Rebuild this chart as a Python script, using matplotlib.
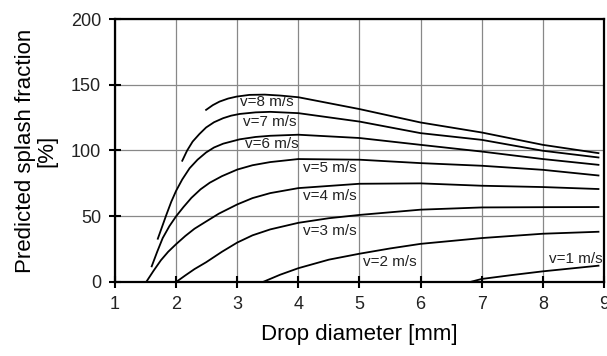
import numpy as np
import matplotlib.pyplot as plt

plt.rcParams['font.family'] = ['Liberation Sans', 'DejaVu Sans']

# drop diameter [mm] / predicted splash fraction [%]
d_v8 = [2.49, 2.60, 2.71, 2.85, 2.99, 3.2, 3.45, 3.7, 4.0, 5.0, 6.0, 7.0, 8.0, 8.91]
s_v8 = [130.9, 134.5, 137.2, 139.5, 141.0, 142.3, 142.5, 141.8, 140.5, 131.5, 121.3, 113.7, 104.3, 98.0]

d_v7 = [2.10, 2.18, 2.27, 2.38, 2.49, 2.62, 2.77, 2.90, 3.04, 3.3, 3.54, 4.0, 5.0, 6.0, 7.0, 8.0, 8.91]
s_v7 = [92.2, 100.0, 106.8, 112.5, 117.5, 121.5, 124.6, 126.5, 127.8, 129.0, 129.4, 128.4, 122.0, 113.2, 108.1, 99.8, 94.7]

d_v6 = [1.70, 1.77, 1.84, 1.92, 2.0, 2.1, 2.22, 2.35, 2.49, 2.62, 2.77, 3.04, 3.3, 3.54, 4.0,
        5.0, 6.0, 7.0, 8.0, 8.91]
s_v6 = [32.9, 42.0, 51.1, 61.0, 69.4, 78.0, 86.5, 93.0, 98.5, 102.3, 105.2, 108.5, 110.3, 111.2, 112.0,
        109.5, 104.3, 99.2, 93.5, 89.1]

d_v5 = [1.60, 1.69, 1.78, 1.89, 2.0, 2.12, 2.25, 2.4, 2.55, 2.75, 3.0, 3.25, 3.54, 4.0,
        5.0, 6.0, 7.0, 8.0, 8.91]
s_v5 = [11.9, 23.0, 33.4, 42.5, 50.0, 57.0, 64.0, 70.5, 75.5, 80.5, 85.5, 88.8, 91.2, 93.5,
        93.0, 90.4, 88.4, 85.3, 81.0]

d_v4 = [1.51, 1.63, 1.75, 1.87, 2.0, 2.15, 2.3, 2.49, 2.7, 3.0, 3.25, 3.54, 4.0,
        5.0, 6.0, 7.0, 8.0, 8.91]
s_v4 = [0.0, 8.5, 16.5, 23.0, 28.8, 35.0, 40.5, 46.0, 52.0, 59.0, 63.8, 67.6, 71.4,
        74.7, 75.0, 73.2, 72.2, 70.7]

d_v3 = [2.0, 2.15, 2.3, 2.49, 2.75, 3.0, 3.25, 3.54, 4.0, 4.5, 5.0, 6.0, 7.0, 8.0, 8.91]
s_v3 = [0.0, 5.0, 9.8, 15.0, 23.0, 30.0, 35.5, 40.0, 45.0, 48.5, 51.0, 55.0, 56.7, 56.9, 57.0]

d_v2 = [3.42, 3.7, 4.0, 4.5, 5.0, 5.5, 6.0, 7.0, 8.0, 8.91]
s_v2 = [0.0, 5.5, 10.5, 17.0, 21.5, 25.5, 29.0, 33.4, 36.7, 38.2]

d_v1 = [6.81, 7.0, 7.5, 8.0, 8.91]
s_v1 = [0.0, 2.3, 5.3, 8.1, 12.4]

curves = [(d_v8, s_v8), (d_v7, s_v7), (d_v6, s_v6), (d_v5, s_v5),
          (d_v4, s_v4), (d_v3, s_v3), (d_v2, s_v2), (d_v1, s_v1)]

# curve labels: text, left x, centre y
labels = ['v=8 m/s', 'v=7 m/s', 'v=6 m/s', 'v=5 m/s',
          'v=4 m/s', 'v=3 m/s', 'v=2 m/s', 'v=1 m/s']
label_x = [3.04, 3.09, 3.12, 4.07, 4.07, 4.07, 5.05, 8.1]
label_y = [137, 121.4, 105, 86.5, 65.2, 38.6, 15, 17.7]

fig = plt.figure(figsize=(6.07, 3.56), dpi=100)
ax = fig.add_axes([0.1895, 0.2079, 0.8055, 0.7387])

for d, s in curves:
    ax.plot(d, s, color='black', lw=1.3, zorder=3, solid_joinstyle='round')

for t, x, y in zip(labels, label_x, label_y):
    ax.text(x, y, t, fontsize=11, va='center', ha='left', color='#222222', zorder=4)

ax.set_xlim(1, 9)
ax.set_ylim(0, 200)
ax.set_xticks(np.arange(1, 10))
ax.set_yticks([0, 50, 100, 150, 200])
ax.grid(True, color='#888888', lw=0.9, zorder=1)
ax.set_axisbelow(True)

for sp in ax.spines.values():
    sp.set_linewidth(1.6)
    sp.set_color('black')

ax.tick_params(direction='inout', length=8, width=1.5, labelsize=13, pad=6,
               labelcolor='#222222')

ax.set_xlabel('Drop diameter [mm]', fontsize=16, labelpad=8)
ax.set_ylabel('Predicted splash fraction\n[%]', fontsize=16, labelpad=10,
              linespacing=1.0)

fig.savefig('out.png', dpi=100)
